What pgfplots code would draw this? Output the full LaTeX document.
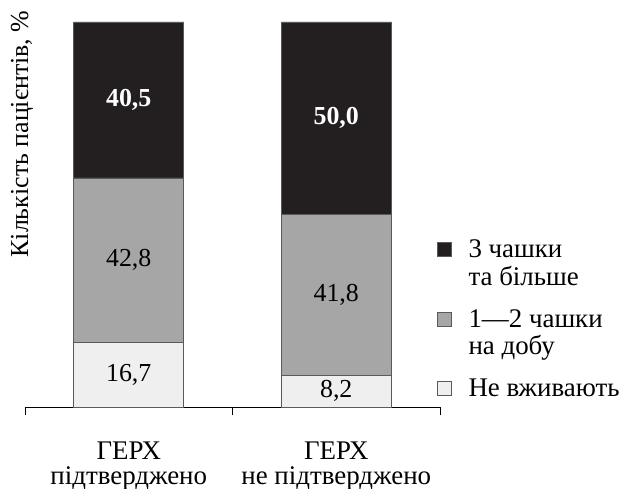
\documentclass[border=0pt]{standalone}
\usepackage{pgfplots}
\pgfplotsset{compat=1.18}
\usepackage{fontspec}
\setmainfont{Liberation Serif}

\definecolor{cupsHigh}{HTML}{231F20}
\definecolor{cupsMid}{HTML}{A6A6A6}
\definecolor{cupsNone}{HTML}{EFEFEF}
\definecolor{edgeGray}{HTML}{5A5A5A}

\pgfplotstableread{
x none mid high
0 16.7 42.8 40.5
1 8.2  41.8 50.0
}\coffee

\newcommand{\keybox}[1]{%
  \draw[fill=#1, draw=edgeGray, line width=0.7bp] (0bp,-6bp) rectangle (14bp,8bp);
  \path[draw=none, fill=none] (0bp,0bp) -- (29bp,0bp);}

\begin{document}
\fontsize{27}{27}\selectfont
\begin{tikzpicture}
\begin{axis}[
  name=ax,
  scale only axis,
  width=415bp, height=385bp,
  xmin=-0.5, xmax=1.5, ymin=0, ymax=100,
  axis x line*=bottom, axis y line=none,
  axis line style={line width=0.9bp, black},
  ybar stacked, bar width=110bp,
  xtick={0,1},
  xticklabels={{ГЕРХ\\підтверджено},{ГЕРХ\\не підтверджено}},
  xticklabel style={align=center, font=\fontsize{27}{25}\selectfont,
    inner sep=0pt, yshift=-35bp},
  major tick length=0pt,
  extra x ticks={-0.5,0.5,1.5},
  extra x tick labels={},
  extra x tick style={tick align=outside, major tick length=8bp,
    tick style={line width=0.9bp, black}},
  legend style={draw=none, fill=none, at={(rel axis cs:1,0.45)}, anchor=north west,
    xshift=-6bp, yshift=-1bp, font=\fontsize{27}{27}\selectfont, row sep=43bp},
  reverse legend,
  legend cell align=left,
  clip=false,
]
\addplot[fill=cupsNone, draw=edgeGray, line width=0.7bp,
  legend image code/.code={\keybox{cupsNone}}]
  table[x=x, y=none] {\coffee};
\addplot[fill=cupsMid, draw=edgeGray, line width=0.7bp,
  legend image code/.code={\keybox{cupsMid}}]
  table[x=x, y=mid] {\coffee};
\addplot[fill=cupsHigh, draw=edgeGray, line width=0.7bp,
  legend image code/.code={\keybox{cupsHigh}}]
  table[x=x, y=high] {\coffee};
\legend{Не вживають,
  {\begin{tabular}[t]{@{}l@{}}1—2 чашки\\на добу\end{tabular}},
  {\begin{tabular}[t]{@{}l@{}}3 чашки\\та більше\end{tabular}}}

% centres of the bar segments
\coordinate (a1) at (axis cs:0,8.35);
\coordinate (a2) at (axis cs:0,38.1);
\coordinate (a3) at (axis cs:0,79.75);
\coordinate (b1) at (axis cs:1,4.1);
\coordinate (b2) at (axis cs:1,29.1);
\coordinate (b3) at (axis cs:1,75.0);
\coordinate (ylab) at (rel axis cs:0,0.709);
\end{axis}

\begin{scope}[every node/.style={font=\fontsize{26}{26}\selectfont}]
\node at (a1) {16,7};
\node at (a2) {42,8};
\node[text=white, font=\fontsize{26}{26}\selectfont\bfseries] at (a3) {40,5};
\node at (b1) {8,2};
\node at (b2) {41,8};
\node[text=white, font=\fontsize{26}{26}\selectfont\bfseries] at (b3) {50,0};
\end{scope}
\node[rotate=90, anchor=center, font=\fontsize{26}{26}\selectfont] at ([xshift=-3bp]ylab) {Кількість пацієнтів, \%};

\pgfresetboundingbox
\path ([shift={(-25bp,-82bp)}]ax.south west) rectangle ([shift={(599bp,407bp)}]ax.south west);
\end{tikzpicture}
\end{document}
